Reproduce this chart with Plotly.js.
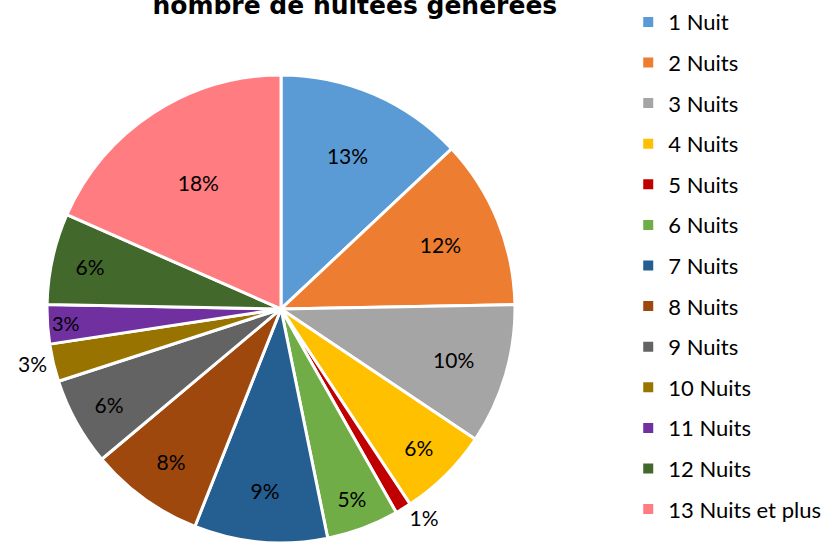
<!DOCTYPE html>
<html><head><meta charset="utf-8">
<script src="https://cdn.plot.ly/plotly-3.0.1.min.js"></script>
<style>html,body{margin:0;padding:0;background:#fff}#c{width:831px;height:543px}</style>
</head><body><div id="c"></div>
<script>
const categories = ["1 Nuit","2 Nuits","3 Nuits","4 Nuits","5 Nuits","6 Nuits","7 Nuits","8 Nuits","9 Nuits","10 Nuits","11 Nuits","12 Nuits","13 Nuits et plus"];
const shares = [13.0, 11.7, 9.7, 6.3, 1.1, 5.0, 9.2, 7.9, 6.1, 2.6, 2.7, 6.3, 18.4];
const colors = ["#5B9BD5","#ED7D31","#A5A5A5","#FFC000","#C00000","#70AD47","#255E91","#9E480E","#636363","#997300","#7030A0","#43682B","#FF7C80"];
const titleText = "nombre de nuitées générées";

const FONT = "Lato, 'Open Sans', sans-serif";
const TFONT = "'DejaVu Sans', sans-serif";
const textPos = categories.map((c,i)=> (i===4 || i===9) ? "outside" : "inside");

const traces = [{
  type: "pie",
  labels: categories,
  values: shares,
  sort: false,
  direction: "clockwise",
  rotation: 0,
  marker: {colors: colors, line: {color: "#ffffff", width: 3}},
  texttemplate: "%{percent:.0%}",
  textposition: textPos,
  insidetextorientation: "horizontal",
  textfont: {family: FONT, size: 21, color: "#000"},
  outsidetextfont: {family: FONT, size: 21, color: "#000"},
  insidetextfont: {family: FONT, size: 21, color: "#000"},
  showlegend: false,
  hoverinfo: "label+percent",
  domain: {x: [0.0566, 0.6197], y: [0, 0.862]}
}];
categories.forEach((c,i)=>{
  traces.push({
    type: "scatter", mode: "markers", x: [null], y: [null],
    name: c, legendgroup: "g"+i,
    marker: {symbol: "square", size: 10, color: colors[i]},
    showlegend: true, hoverinfo: "skip"
  });
});

const layout = {
  width: 831, height: 543,
  margin: {l: 0, r: 0, t: 0, b: 0},
  paper_bgcolor: "#fff", plot_bgcolor: "#fff",
  title: {text: "<b>" + titleText + "</b>", font: {family: TFONT, size: 25, color: "#000"},
          x: 0.427, xanchor: "center", xref: "paper", y: 0.991, yref: "container", yanchor: "middle"},
  xaxis: {visible: false}, yaxis: {visible: false},
  showlegend: true,
  legend: {x: 0.756, xanchor: "left", y: 0.998, yanchor: "top",
           font: {family: FONT, size: 22, color: "#000"},
           traceorder: "grouped", tracegroupgap: 9, itemwidth: 30,
           bgcolor: "rgba(0,0,0,0)"}
};
Plotly.newPlot("c", traces, layout, {displayModeBar: false, staticPlot: true});
</script></body></html>
